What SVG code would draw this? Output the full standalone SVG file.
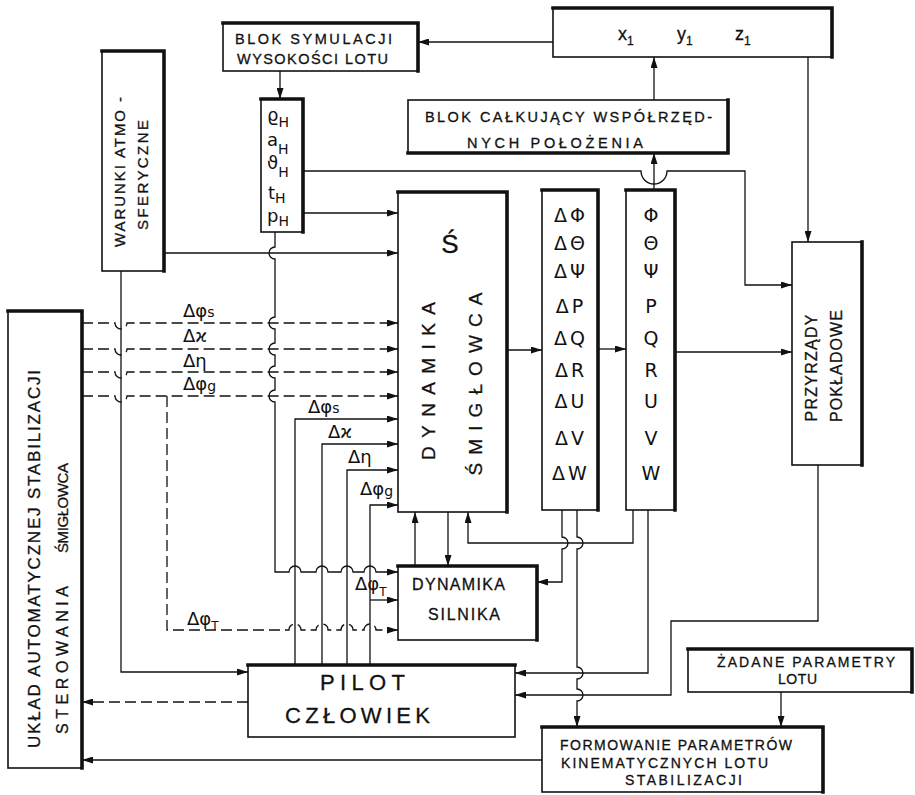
<svg xmlns="http://www.w3.org/2000/svg" width="915" height="795" viewBox="0 0 915 795">
<defs>
<marker id="ah" viewBox="0 0 11 7" refX="11" refY="3.5" markerWidth="11" markerHeight="7" markerUnits="userSpaceOnUse" orient="auto"><path d="M0,0 L11,3.5 L0,7 z" fill="#111"/></marker>
<style>
.bx{fill:#fff;stroke:#111;stroke-width:1.6}
.th{fill:none;stroke:#111;stroke-width:3.6;stroke-linecap:square}
.c{fill:none;stroke:#111;stroke-width:1.3}
.a{marker-end:url(#ah)}
.d{stroke-dasharray:11 5}
.t{font-family:"Liberation Sans","DejaVu Sans",sans-serif;fill:#111;stroke:#111;stroke-width:0.3}
.g{font-family:"DejaVu Sans",sans-serif;fill:#111}
</style>
</defs>
<rect width="915" height="795" fill="#fff"/>

<g id="connectors">
<path class="c a" d="M553,42 L418,42"/>
<path class="c a" d="M808,57 L808,242"/>
<path class="c a" d="M654,100 L654,57"/>
<path class="c a" d="M654,190 L654,153"/>
<path class="c a" d="M280,71 L280,99"/>
<path class="c a" d="M303,171 L641,171 A13,13 0 0 0 667,171 L745,171 L745,285 L792,285"/>
<path class="c a" d="M303,213 L398,213"/>
<path class="c a" d="M164,253 L398,253"/>
<path class="c a d" d="M82,323 L115,323 A6,6 0 0 0 127,323 L398,323"/>
<path class="c a d" d="M82,349 L115,349 A6,6 0 0 0 127,349 L398,349"/>
<path class="c a d" d="M82,372 L115,372 A6,6 0 0 0 127,372 L398,372"/>
<path class="c a d" d="M82,396 L115,396 A6,6 0 0 0 127,396 L398,396"/>
<path class="c a d" d="M167,396 L167,630 L289,630 A6,6 0 0 1 301,630 L316,630 A6,6 0 0 1 328,630 L341,630 A6,6 0 0 1 353,630 L364,630 A6,6 0 0 1 376,630 L398,630"/>
<path class="c a" d="M275,232 L275,247 A6,6 0 0 0 275,259 L275,317 A6,6 0 0 0 275,329 L275,343 A6,6 0 0 0 275,355 L275,366 A6,6 0 0 0 275,378 L275,390 A6,6 0 0 0 275,402 L275,572 L289,572 A6,6 0 0 1 301,572 L316,572 A6,6 0 0 1 328,572 L341,572 A6,6 0 0 1 353,572 L364,572 A6,6 0 0 1 376,572 L398,572"/>
<path class="c a" d="M121,271 L121,672 L248,672"/>
<path class="c a" d="M295,665 L295,419 L398,419"/>
<path class="c a" d="M322,665 L322,444 L398,444"/>
<path class="c a" d="M347,665 L347,470 L398,470"/>
<path class="c a" d="M370,665 L370,505 L398,505"/>
<path class="c a" d="M370,600 L398,600"/>
<path class="c a" d="M507,350 L542,350"/>
<path class="c a" d="M598,349 L626,349"/>
<path class="c a" d="M675,352 L792,352"/>
<path class="c a" d="M415,566 L415,512"/>
<path class="c a" d="M448,512 L448,566"/>
<path class="c a" d="M633,510 L633,543 L468,543 L468,512"/>
<path class="c a" d="M562,510 L562,537 A6,6 0 0 1 562,549 L562,582 L537,582"/>
<path class="c a" d="M577,510 L577,537 A6,6 0 0 1 577,549 L577,667 A6,6 0 0 1 577,679 L577,689 A6,6 0 0 1 577,701 L577,727"/>
<path class="c a" d="M648,510 L648,673 L515,673"/>
<path class="c a" d="M818,465 L818,621 L671,621 L671,695 L515,695"/>
<path class="c a d" d="M248,702 L82,702"/>
<path class="c a" d="M542,760 L82,760"/>
<path class="c a" d="M781,692 L781,727"/>
</g>

<g id="blok-symulacji">
<rect class="bx" x="223" y="23" width="195" height="48"/>
<path class="th" d="M223,23 L418,23 L418,71"/>
<text class="t" x="235" y="44" font-size="14.5" textLength="157" lengthAdjust="spacing">BLOK SYMULACJI</text>
<text class="t" x="237" y="64" font-size="14.5" textLength="151" lengthAdjust="spacing">WYSOKOŚCI LOTU</text>
</g>

<g id="xyz">
<rect class="bx" x="553" y="8" width="279" height="49"/>
<path class="th" d="M553,8 L832,8 L832,57"/>
<text class="t" x="618" y="40" font-size="18">x<tspan font-size="12" dy="5">1</tspan></text>
<text class="t" x="677" y="40" font-size="18">y<tspan font-size="12" dy="5">1</tspan></text>
<text class="t" x="735" y="40" font-size="18">z<tspan font-size="12" dy="5">1</tspan></text>
</g>

<g id="blok-calkujacy">
<rect class="bx" x="408" y="100" width="320" height="53"/>
<path class="th" d="M728,100 L728,153 L408,153"/>
<text class="t" x="425" y="122" font-size="14.5" textLength="287" lengthAdjust="spacing">BLOK CAŁKUJĄCY  WSPÓŁRZĘD-</text>
<text class="t" x="467" y="148" font-size="14.5" textLength="176" lengthAdjust="spacing">NYCH  POŁOŻENIA</text>
</g>

<g id="warunki">
<rect class="bx" x="102" y="51" width="62" height="220"/>
<path class="th" d="M102,51 L164,51 L164,271"/>
<text class="t" transform="translate(125,172) rotate(-90)" text-anchor="middle" font-size="15" textLength="150" lengthAdjust="spacing">WARUNKI ATMO -</text>
<text class="t" transform="translate(148,175) rotate(-90)" text-anchor="middle" font-size="15" textLength="110" lengthAdjust="spacing">SFERYCZNE</text>
</g>

<g id="atmosfera">
<rect class="bx" x="261" y="99" width="42" height="133"/>
<path class="th" d="M261,99 L303,99 L303,232"/>
<text class="g" x="267" y="121" font-size="18">ϱ<tspan font-size="14" dy="6">H</tspan></text>
<text class="g" x="267" y="146" font-size="18">a<tspan font-size="14" dy="8">H</tspan></text>
<text class="g" x="267" y="169" font-size="18">ϑ<tspan font-size="14" dy="8">H</tspan></text>
<text class="g" x="268" y="199" font-size="18">t<tspan font-size="14" dy="4">H</tspan></text>
<text class="g" x="267" y="222" font-size="18">p<tspan font-size="14" dy="4">H</tspan></text>
</g>

<g id="dynamika-smiglowca">
<rect class="bx" x="398" y="192" width="109" height="320"/>
<path class="th" d="M398,192 L507,192 L507,512"/>
<text class="t" x="450" y="253" font-size="26" text-anchor="middle">Ś</text>
<text class="t" transform="translate(435,381) rotate(-90)" text-anchor="middle" font-size="19" textLength="158" lengthAdjust="spacing">DYNAMIKA</text>
<text class="t" transform="translate(482,384) rotate(-90)" text-anchor="middle" font-size="19" textLength="183" lengthAdjust="spacing">ŚMIGŁOWCA</text>
</g>

<g id="przyrosty">
<rect class="bx" x="542" y="190" width="56" height="320"/>
<path class="th" d="M542,190 L598,190 L598,510"/>
<g class="g" font-size="19" text-anchor="middle" letter-spacing="3">
<text x="571" y="222">ΔΦ</text>
<text x="571" y="250">ΔΘ</text>
<text x="571" y="278">ΔΨ</text>
<text x="571" y="313">ΔP</text>
<text x="571" y="345">ΔQ</text>
<text x="571" y="377">ΔR</text>
<text x="571" y="408">ΔU</text>
<text x="571" y="445">ΔV</text>
<text x="571" y="480">ΔW</text>
</g>
</g>

<g id="stan">
<rect class="bx" x="626" y="190" width="49" height="320"/>
<path class="th" d="M626,190 L675,190 L675,510"/>
<g class="g" font-size="19" text-anchor="middle">
<text x="651" y="222">Φ</text>
<text x="651" y="250">Θ</text>
<text x="651" y="278">Ψ</text>
<text x="651" y="313">P</text>
<text x="651" y="345">Q</text>
<text x="651" y="377">R</text>
<text x="651" y="408">U</text>
<text x="651" y="445">V</text>
<text x="651" y="480">W</text>
</g>
</g>

<g id="przyrzady">
<rect class="bx" x="792" y="242" width="70" height="223"/>
<path class="th" d="M862,242 L862,465"/>
<text class="t" transform="translate(817,368) rotate(-90)" text-anchor="middle" font-size="16" textLength="107" lengthAdjust="spacing">PRZYRZĄDY</text>
<text class="t" transform="translate(842,366) rotate(-90)" text-anchor="middle" font-size="16" textLength="112" lengthAdjust="spacing">POKŁADOWE</text>
</g>

<g id="uklad">
<rect class="bx" x="8" y="311" width="74" height="457"/>
<path class="th" d="M8,311 L82,311 L82,768"/>
<text class="t" transform="translate(40,559) rotate(-90)" text-anchor="middle" font-size="17" textLength="378" lengthAdjust="spacing">UKŁAD AUTOMATYCZNEJ STABILIZACJI</text>
<text class="t" transform="translate(68,660) rotate(-90)" text-anchor="middle" font-size="16" textLength="148" lengthAdjust="spacing">STEROWANIA</text>
<text class="t" transform="translate(68,508) rotate(-90)" text-anchor="middle" font-size="15" textLength="90" lengthAdjust="spacing">ŚMIGŁOWCA</text>
</g>

<g id="dynamika-silnika">
<rect class="bx" x="398" y="566" width="139" height="74"/>
<path class="th" d="M398,566 L537,566 L537,640"/>
<text class="t" x="412" y="590" font-size="16" textLength="93" lengthAdjust="spacing">DYNAMIKA</text>
<text class="t" x="428" y="620" font-size="16" textLength="72" lengthAdjust="spacing">SILNIKA</text>
</g>

<g id="pilot">
<rect class="bx" x="248" y="665" width="267" height="72"/>
<path class="th" d="M248,665 L515,665"/>
<text class="t" x="320" y="690" font-size="22" textLength="85" lengthAdjust="spacing">PILOT</text>
<text class="t" x="285" y="723" font-size="22" textLength="145" lengthAdjust="spacing">CZŁOWIEK</text>
</g>

<g id="zadane">
<rect class="bx" x="688" y="649" width="224" height="43"/>
<path class="th" d="M688,649 L912,649 L912,692"/>
<text class="t" x="717" y="667" font-size="14" textLength="178" lengthAdjust="spacing">ŻADANE  PARAMETRY</text>
<text class="t" x="778" y="684" font-size="14" textLength="39" lengthAdjust="spacing">LOTU</text>
</g>

<g id="formowanie">
<rect class="bx" x="542" y="727" width="281" height="65"/>
<path class="th" d="M542,727 L823,727 L823,792"/>
<text class="t" x="560" y="750" font-size="14" textLength="232" lengthAdjust="spacing">FORMOWANIE  PARAMETRÓW</text>
<text class="t" x="561" y="768" font-size="14" textLength="207" lengthAdjust="spacing">KINEMATYCZNYCH   LOTU</text>
<text class="t" x="625" y="785" font-size="14" textLength="117" lengthAdjust="spacing">STABILIZACJI</text>
</g>

<g id="labels" class="g" font-size="18">
<text x="183" y="317">Δφ<tspan font-size="14">s</tspan></text>
<text x="183" y="342">Δϰ</text>
<text x="183" y="367">Δη</text>
<text x="183" y="390">Δφ<tspan font-size="14" dy="1">g</tspan></text>
<text x="308" y="413">Δφ<tspan font-size="14">s</tspan></text>
<text x="328" y="438">Δϰ</text>
<text x="348" y="463">Δη</text>
<text x="360" y="495">Δφ<tspan font-size="14" dy="1">g</tspan></text>
<text x="355" y="590">Δφ<tspan font-size="12" dy="6">T</tspan></text>
<text x="187" y="625">Δφ<tspan font-size="12" dy="5">T</tspan></text>
</g>
</svg>
